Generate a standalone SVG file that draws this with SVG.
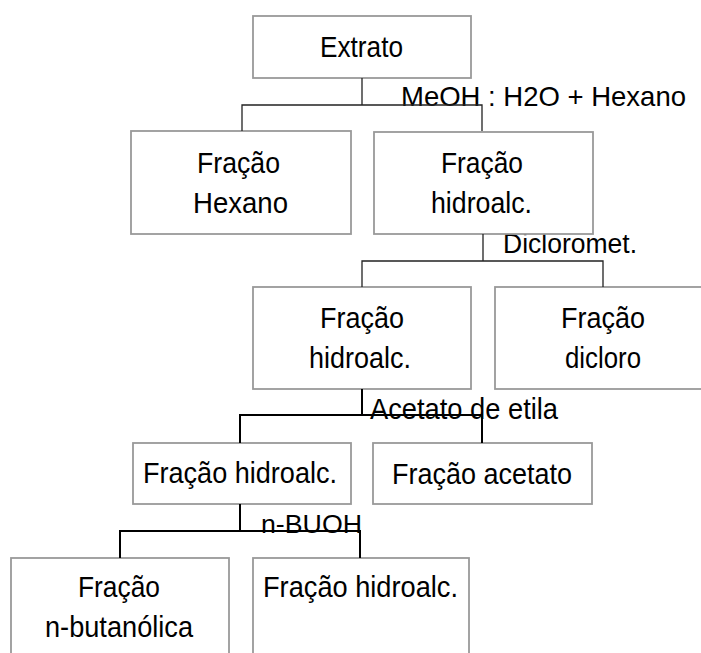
<svg xmlns="http://www.w3.org/2000/svg" width="701" height="653" viewBox="0 0 701 653">
<style>
.box{fill:#fff;stroke:#999;stroke-width:1.8}
.t{font-family:"Liberation Sans",Arial,sans-serif;font-size:30px;fill:#000}
.lbl{font-family:"Liberation Sans",Arial,sans-serif;fill:#000}
.c1{fill:none;stroke:#222;stroke-width:1.3}
.c2{fill:none;stroke:#000;stroke-width:2}
</style>
<rect width="701" height="653" fill="#fff"/>
<g id="labels">
<text class="lbl" x="401" y="106" font-size="27.5" textLength="285" lengthAdjust="spacingAndGlyphs">MeOH : H2O + Hexano</text>
<text class="lbl" x="503" y="253" font-size="27" textLength="134" lengthAdjust="spacingAndGlyphs">Dicloromet.</text>
<text class="lbl" x="370" y="419" font-size="30" textLength="188" lengthAdjust="spacingAndGlyphs">Acetato de etila</text>
<text class="lbl" x="261" y="533" font-size="26" textLength="101" lengthAdjust="spacingAndGlyphs">n-BUOH</text>
</g>
<g id="extrato">
<rect class="box" x="253" y="16" width="218" height="62"/>
<text class="t" x="320" y="57" textLength="83" lengthAdjust="spacingAndGlyphs">Extrato</text>
</g>
<g id="fracao-hexano">
<rect class="box" x="131" y="131" width="220" height="103"/>
<text class="t" x="197" y="173" textLength="83" lengthAdjust="spacingAndGlyphs">Fração</text>
<text class="t" x="193" y="213" textLength="95" lengthAdjust="spacingAndGlyphs">Hexano</text>
</g>
<g id="fracao-hidroalc-1">
<rect class="box" x="374" y="132" width="219" height="102"/>
<text class="t" x="441" y="173" textLength="82" lengthAdjust="spacingAndGlyphs">Fração</text>
<text class="t" x="431" y="213" textLength="101" lengthAdjust="spacingAndGlyphs">hidroalc.</text>
</g>
<g id="fracao-hidroalc-2">
<rect class="box" x="253" y="287" width="218" height="102"/>
<text class="t" x="320" y="328" textLength="84" lengthAdjust="spacingAndGlyphs">Fração</text>
<text class="t" x="309" y="368" textLength="102" lengthAdjust="spacingAndGlyphs">hidroalc.</text>
</g>
<g id="fracao-dicloro">
<rect class="box" x="495" y="287" width="216" height="102"/>
<text class="t" x="561" y="328" textLength="84" lengthAdjust="spacingAndGlyphs">Fração</text>
<text class="t" x="565" y="368" textLength="76" lengthAdjust="spacingAndGlyphs">dicloro</text>
</g>
<g id="fracao-hidroalc-3">
<rect class="box" x="133" y="443" width="218" height="61"/>
<text class="t" x="143" y="483" textLength="194" lengthAdjust="spacingAndGlyphs">Fração hidroalc.</text>
</g>
<g id="fracao-acetato">
<rect class="box" x="373" y="443" width="219" height="61"/>
<text class="t" x="392" y="484" textLength="180" lengthAdjust="spacingAndGlyphs">Fração acetato</text>
</g>
<g id="fracao-n-butanolica">
<rect class="box" x="11" y="558" width="218" height="110"/>
<text class="t" x="78" y="597" textLength="82" lengthAdjust="spacingAndGlyphs">Fração</text>
<text class="t" x="45" y="637" textLength="148" lengthAdjust="spacingAndGlyphs">n-butanólica</text>
</g>
<g id="fracao-hidroalc-4">
<rect class="box" x="253" y="558" width="216" height="110"/>
<text class="t" x="263" y="597" textLength="195" lengthAdjust="spacingAndGlyphs">Fração hidroalc.</text>
</g>
<g id="connectors">
<path class="c1" d="M362 78V105M242 131V105H482V131"/>
<path class="c1" d="M483 234V261M362 287V261H603V287"/>
<path class="c2" d="M362 389V415M240 443V415H482V443"/>
<path class="c2" d="M240 504V531M120 558V531H360V558"/>
</g>
</svg>
